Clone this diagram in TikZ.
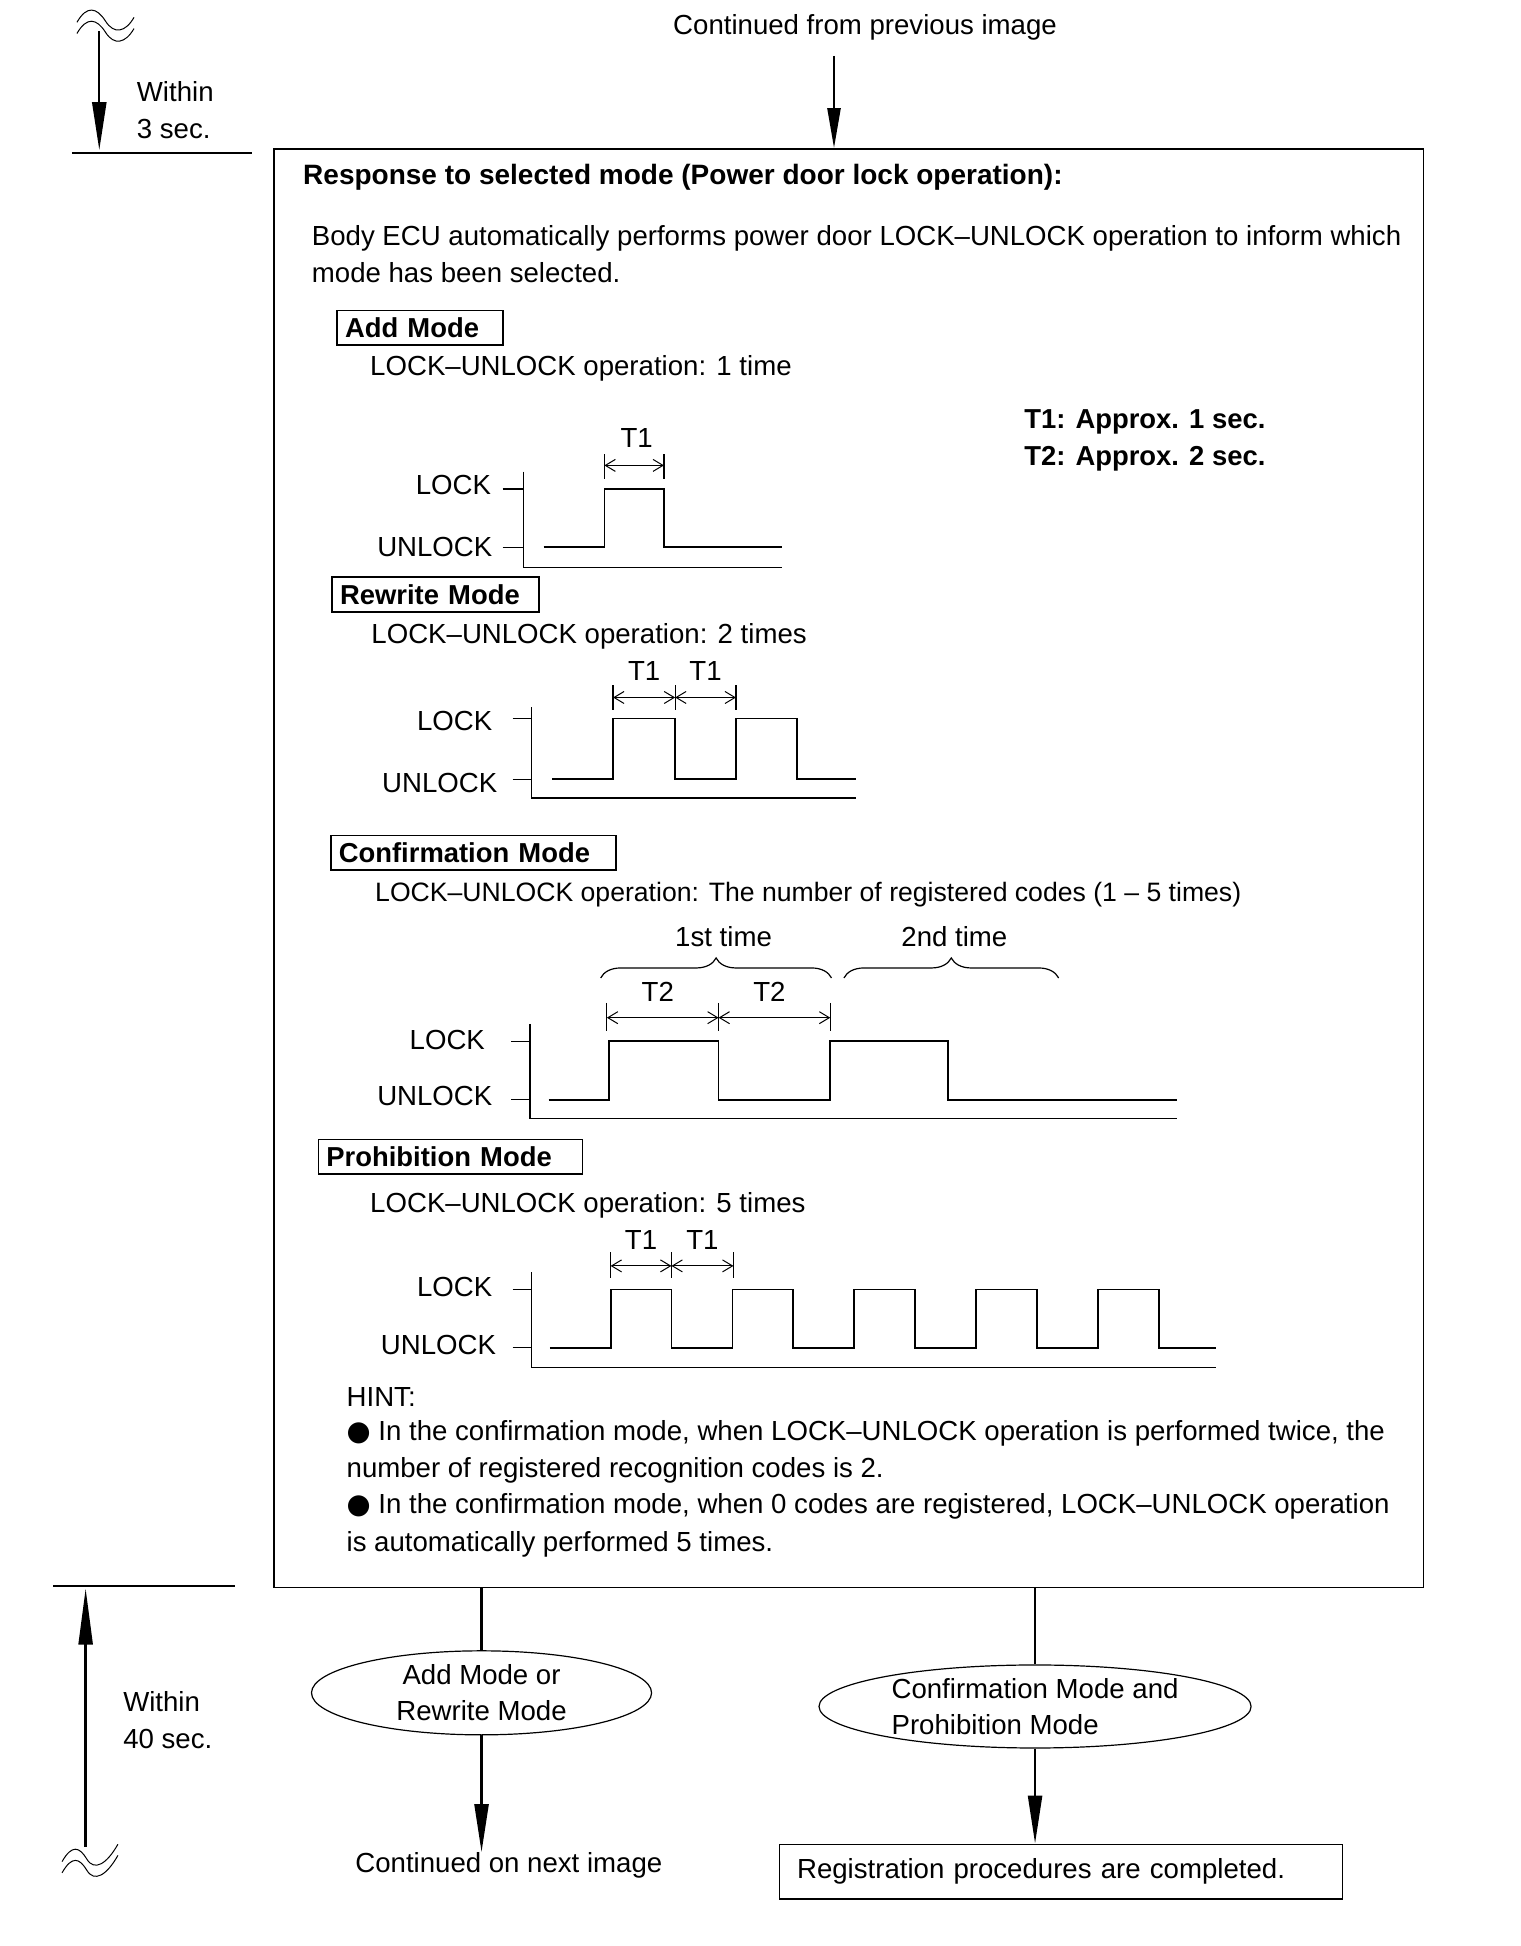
\documentclass[tikz,border=0pt]{standalone}
\usepackage{fontspec}
\setmainfont{Liberation Sans}
\newfontfamily\symfont{DejaVu Sans}
\usetikzlibrary{
    positioning,
    arrows.meta,
    shapes.geometric,
    fit,
    decorations.pathreplacing
}
\tikzset{
    txt/.style={
        anchor=west, inner sep=0pt, align=left,
        font=\fontsize{13.8}{18.6}\selectfont
    },
    head/.style={
        txt, font=\fontsize{13.7}{18.6}\selectfont\bfseries
    },
    modebox/.style={
        draw, anchor=west, line width=0.7pt,
        inner xsep=4pt, inner ysep=0pt, minimum height=17.4pt,
        align=left, font=\fontsize{13.7}{15}\selectfont\bfseries
    },
    lvl/.style={
        anchor=east, inner sep=0pt, font=\fontsize{13.8}{15}\selectfont
    },
    tlabel/.style={
        inner sep=0pt, font=\fontsize{13.8}{15}\selectfont
    },
    wave/.style={line width=0.9pt},
    axisline/.style={line width=0.6pt},
    dimline/.style={
        {Straight Barb[length=5pt,width=6pt]}-{Straight Barb[length=5pt,width=6pt]},
        line width=0.5pt
    },
    timebrace/.style={
        decorate, decoration={brace, amplitude=10pt}, line width=0.6pt
    },
    flow/.style={
        -{Triangle[length=24pt,width=7pt]}, line width=1.2pt
    },
    stem/.style={line width=1.2pt},
    oval/.style={
        ellipse, draw, line width=0.6pt, inner sep=0pt,
        font=\fontsize{13.8}{18}\selectfont
    },
    squiggle/.style={line width=0.5pt}
}

\begin{document}
\begin{tikzpicture}[x=0.6204pt, y=-0.6204pt]

    \useasboundingbox (0,0) rectangle (1225,1568);

    % --- Entrada desde la imagen anterior ---
    \node[tlabel] (cont_prev) at (697,22) {Continued from previous image};
    \coordinate (in_top) at (672,45);

    % --- Caja principal ---
    \node[draw, line width=0.8pt, inner sep=0pt, fit={(221,120) (1147,1279)}] (resp) {};
    \draw[flow, -{Triangle[length=20pt,width=6.5pt]}] (in_top) -- (in_top |- resp.north);

    % --- Cotas de tiempo a la izquierda ---
    \coordinate (t3_top) at (80,25);
    \coordinate (t3_bot) at (80,121);
    \draw[flow] (t3_top) -- (t3_bot);
    \draw[axisline, line width=1pt] (58,123) -- (203,123);
    \node[txt] (within3) at (110,89) {Within\\3 sec.};
    \foreach \dy in {0,9} {
        \draw[squiggle] (62,{18+\dy}) .. controls (70,{4+\dy}) and (78,{6+\dy}) .. (85,{17+\dy})
            .. controls (92,{28+\dy}) and (101,{26+\dy}) .. (108,{14+\dy});
    }

    \draw[axisline, line width=1pt] (43,1278) -- (189,1278);
    \coordinate (t40_bot) at (69,1488);
    \coordinate (t40_top) at (69,1280);
    \draw[flow, -{Triangle[length=28pt,width=7pt]}] (t40_bot) -- (t40_top);
    \node[txt] (within40) at (99,1386) {Within\\40 sec.};
    \foreach \dy in {0,9} {
        \draw[squiggle] (50,{1500+\dy}) .. controls (58,{1486+\dy}) and (64,{1488+\dy}) .. (70,{1498+\dy})
            .. controls (76,{1508+\dy}) and (86,{1502+\dy}) .. (95,{1486+\dy});
    }

    % --- Encabezado ---
    \node[head, font=\fontsize{14}{18.6}\selectfont\bfseries] (title) at (244,143) {Response to selected mode (Power door lock operation):};
    \node[txt] (body) at (251,205) {Body ECU automatically performs power door LOCK--UNLOCK operation to inform which\\mode has been selected.};
    \node[head] (tnote) at (825,355) {T1: Approx. 1 sec.\\T2: Approx. 2 sec.};

    % --- Add Mode ---
    \node[modebox, text width=75pt] (addmode) at (271,264) {Add Mode};
    \node[txt] (op_add) at (298,297) {LOCK--UNLOCK operation: 1 time};
    \node[lvl] (add_lock) at (396,391) {LOCK};
    \node[lvl] (add_unlock) at (397,441) {UNLOCK};
    \draw[axisline] (422,380) -- (422,457) -- (630,457);
    \draw[axisline] (405,394) -- (422,394) (405,441) -- (422,441);
    \draw[wave] (438,441) -- (487,441) -- (487,394) -- (535,394) -- (535,441) -- (630,441);
    \draw[axisline] (487,366) -- (487,386) (535,366) -- (535,386);
    \draw[dimline] (487,375) -- (535,375);
    \node[tlabel] (add_t1) at (513,353) {T1};

    % --- Rewrite Mode ---
    \node[modebox, text width=95.5pt] (rewmode) at (267,479) {Rewrite Mode};
    \node[txt] (op_rew) at (299,513) {LOCK--UNLOCK operation: 2 times};
    \node[lvl] (rew_lock) at (397,581) {LOCK};
    \node[lvl] (rew_unlock) at (401,631) {UNLOCK};
    \draw[axisline] (428,570) -- (428,643) -- (690,643);
    \draw[axisline] (413,579) -- (428,579) (413,628) -- (428,628);
    \draw[wave] (445,628) -- (494,628) -- (494,579) -- (544,579) -- (544,628)
        -- (593,628) -- (593,579) -- (642,579) -- (642,628) -- (690,628);
    \foreach \xa/\xb/\name in {494/544/a, 544/593/b} {
        \draw[dimline] (\xa,562) -- (\xb,562);
        \node[tlabel] (rew_t1\name) at ({(\xa+\xb)/2},541) {T1};
    }
    \draw[axisline] (494,552) -- (494,572) (544,552) -- (544,572) (593,552) -- (593,572);

    % --- Confirmation Mode ---
    \node[modebox, text width=134.6pt] (confmode) at (266,687) {Confirmation Mode};
    \node[txt, font=\fontsize{13.3}{15}\selectfont] (op_conf) at (302,721) {LOCK--UNLOCK operation: The number of registered codes (1 -- 5 times)};
    \draw[timebrace] (484,788) -- (670,788);
    \draw[timebrace] (680,788) -- (853,788);
    \node[tlabel] (first) at (583,755) {1st time};
    \node[tlabel] (second) at (769,755) {2nd time};
    \node[lvl] (conf_lock) at (391,838) {LOCK};
    \node[lvl] (conf_unlock) at (397,883) {UNLOCK};
    \draw[axisline] (427,825) -- (427,901) -- (948,901);
    \draw[axisline] (412,839) -- (427,839) (412,886) -- (427,886);
    \draw[wave] (442,886) -- (491,886) -- (491,839) -- (579,839) -- (579,886)
        -- (669,886) -- (669,839) -- (764,839) -- (764,886) -- (948,886);
    \foreach \xa/\xb/\name in {489/579/a, 579/669/b} {
        \draw[dimline] (\xa,820) -- (\xb,820);
        \node[tlabel] (conf_t2\name) at ({(\xa+\xb)/2-4},799) {T2};
    }
    \draw[axisline] (489,808) -- (489,831) (579,808) -- (579,831) (669,808) -- (669,831);

    % --- Prohibition Mode ---
    \node[modebox, text width=124pt] (promode) at (256,932) {Prohibition Mode};
    \node[txt] (op_pro) at (298,971) {LOCK--UNLOCK operation: 5 times};
    \node[lvl] (pro_lock) at (397,1037) {LOCK};
    \node[lvl] (pro_unlock) at (400,1084) {UNLOCK};
    \draw[axisline] (428,1025) -- (428,1102) -- (980,1102);
    \draw[axisline] (413,1039) -- (428,1039) (413,1086) -- (428,1086);
    \draw[wave] (443,1086)
        \foreach \k in {0,...,4} { -- ({492+98.2*\k},1086) -- ++(0,-47) -- ++(49,0) -- ++(0,47) }
        -- (980,1086);
    \foreach \xa/\xb/\name in {492/541/a, 541/591/b} {
        \draw[dimline] (\xa,1020) -- (\xb,1020);
        \node[tlabel] (pro_t1\name) at ({(\xa+\xb)/2},999) {T1};
    }
    \draw[axisline] (492,1009) -- (492,1030) (541,1009) -- (541,1030) (591,1009) -- (591,1030);

    % --- Notas ---
    \node[txt] (hint) at (279,1126) {HINT:};
    \node[txt] (hint_a) at (279,1170) {{\symfont ●} In the confirmation mode, when LOCK--UNLOCK operation is performed twice, the\\number of registered recognition codes is 2.};
    \node[txt] (hint_b) at (279,1229) {{\symfont ●} In the confirmation mode, when 0 codes are registered, LOCK--UNLOCK operation\\is automatically performed 5 times.};

    % --- Salidas ---
    \node[oval, minimum width=170pt, minimum height=42pt, align=center] (addrw) at (388,1364) {Add Mode or\\Rewrite Mode};
    \node[oval, minimum width=216pt, minimum height=41.5pt, align=left] (confpro) at (834,1375) {Confirmation Mode and\\Prohibition Mode};
    \node[tlabel] (cont_next) at (410,1503) {Continued on next image};
    \node[draw, line width=0.7pt, minimum width=281.5pt, minimum height=27.3pt,
          text width=264pt, inner xsep=8.7pt, align=left,
          font=\fontsize{13.8}{15}\selectfont] (done) at (855,1508) {Registration procedures are completed.};

    \draw[stem] (addrw.north |- resp.south) -- (addrw.north);
    \draw[stem] (confpro.north |- resp.south) -- (confpro.north);
    \draw[flow] (addrw.south) -- (addrw.south |- cont_next.north);
    \draw[flow] (confpro.south) -- (confpro.south |- done.north);

\end{tikzpicture}
\end{document}
